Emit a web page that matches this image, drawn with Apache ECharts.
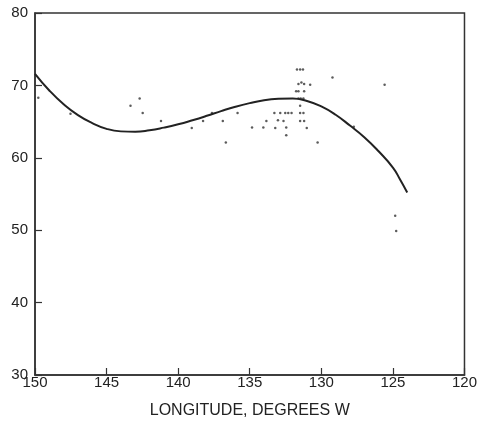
<!DOCTYPE html>
<html><head><meta charset="utf-8">
<script src="https://cdn.jsdelivr.net/npm/echarts@6/dist/echarts.min.js"></script>
<style>html,body{margin:0;padding:0;background:#fff}#c{width:480px;height:427px}</style>
</head><body><div id="c"></div>
<script>
const xTicks = [150, 145, 140, 135, 130, 125, 120];
const yTicks = [30, 40, 50, 60, 70, 80];
const curveLon = [150, 149, 148, 147, 146, 145, 144, 143, 142, 141, 140, 139, 138, 137, 136, 135, 134, 133, 132, 131, 130, 129, 128, 127, 126, 125, 124.5, 124];
const curveVal = [71.6, 69.3, 67.4, 65.9, 64.8, 64.0, 63.65, 63.6, 63.8, 64.17, 64.63, 65.19, 65.8, 66.45, 67.05, 67.55, 67.95, 68.15, 68.2, 67.85, 67.1, 65.95, 64.45, 62.85, 60.9, 58.65, 57.0, 55.2];
const ptLon = [149.77, 147.52, 143.33, 142.69, 142.48, 141.2, 139.05, 138.26, 137.64, 136.88, 136.67, 135.85, 134.84, 134.05, 133.84, 133.28, 133.22, 133.03, 132.87, 132.64, 132.52, 132.45, 132.45, 132.31, 132.08, 131.76, 131.6, 131.6, 131.39, 131.2, 130.78, 131.2, 131.7, 131.48, 131.28, 131.6, 131.44, 131.25, 131.48, 131.48, 131.25, 131.48, 131.2, 131.02, 130.26, 129.22, 127.73, 125.58, 124.84, 124.77];
const ptVal = [68.3, 66.1, 67.2, 68.2, 66.2, 65.1, 64.1, 65.1, 66.2, 65.1, 62.1, 66.2, 64.2, 64.2, 65.1, 66.2, 64.1, 65.2, 66.2, 65.1, 66.2, 64.2, 63.1, 66.2, 66.2, 69.2, 69.2, 70.2, 70.4, 70.2, 70.1, 69.2, 72.2, 72.2, 72.2, 68.2, 68.2, 68.2, 67.2, 66.2, 66.2, 65.1, 65.1, 64.1, 62.1, 71.1, 64.3, 70.1, 52.0, 49.9];

const font = 'Liberation Sans';
const chart = echarts.init(document.getElementById('c'));
chart.setOption({
  animation: false,
  grid: { left: 35, right: 13, top: 13, bottom: 52, show: true, borderColor: '#333', borderWidth: 1.5 },
  xAxis: {
    type: 'value', min: xTicks[xTicks.length-1], max: xTicks[0], interval: 5, inverse: true,
    name: 'LONGITUDE, DEGREES W', nameLocation: 'middle', nameGap: 28,
    nameTextStyle: { fontFamily: font, fontSize: 16, color: '#222' },
    axisLine: { show: true, lineStyle: { color: '#333', width: 1.5 } },
    axisTick: { show: true, inside: true, length: 7, lineStyle: { color: '#333', width: 1.2 } },
    axisLabel: { fontFamily: font, fontSize: 15, color: '#222', margin: 0 },
    splitLine: { show: false }
  },
  yAxis: {
    type: 'value', min: yTicks[0], max: yTicks[yTicks.length-1], interval: 10,
    axisLine: { show: true, lineStyle: { color: '#333', width: 1.5 } },
    axisTick: { show: true, inside: true, length: 7, lineStyle: { color: '#333', width: 1.2 } },
    axisLabel: { fontFamily: font, fontSize: 15, color: '#222', margin: 7 },
    splitLine: { show: false }
  },
  series: [
    { type: 'line', smooth: true, symbol: 'none', data: curveLon.map((x, i) => [x, curveVal[i]]),
      lineStyle: { color: '#222', width: 2 } },
    { type: 'scatter', symbol: 'circle', symbolSize: 2.5, data: ptLon.map((x, i) => [x, ptVal[i]]),
      itemStyle: { color: '#333' } }
  ]
});
</script></body></html>
